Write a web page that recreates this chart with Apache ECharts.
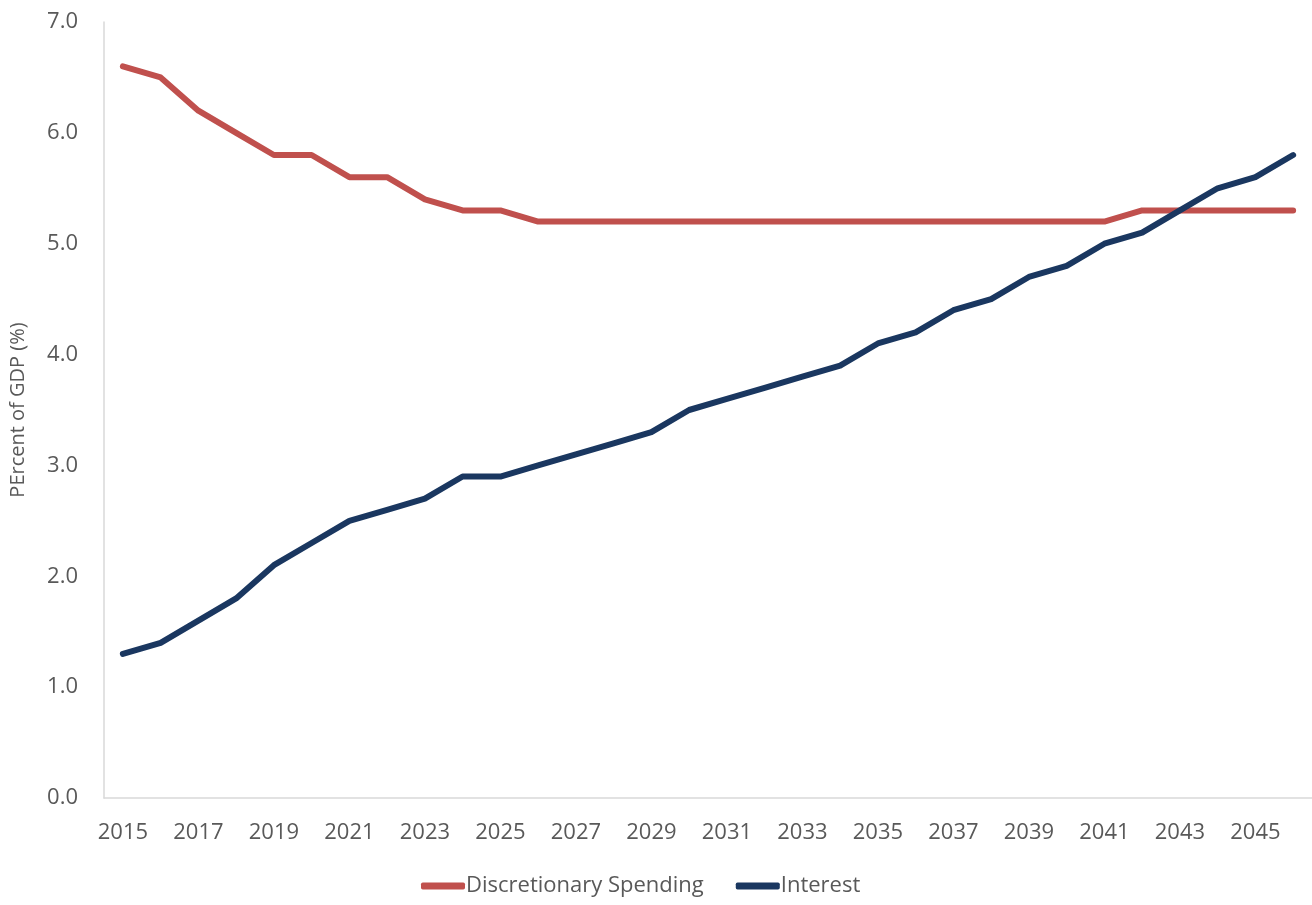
<!DOCTYPE html>
<html><head><meta charset="utf-8">
<script src="https://cdn.jsdelivr.net/npm/echarts@6/dist/echarts.min.js"></script>
<style>html,body{margin:0;padding:0;background:#fff}#c{width:1312px;height:905px}</style>
</head><body><div id="c"></div>
<script>
const years = ["2015","2016","2017","2018","2019","2020","2021","2022","2023","2024","2025","2026","2027","2028","2029","2030","2031","2032","2033","2034","2035","2036","2037","2038","2039","2040","2041","2042","2043","2044","2045","2046"];
const discretionary = [6.6,6.5,6.2,6.0,5.8,5.8,5.6,5.6,5.4,5.3,5.3,5.2,5.2,5.2,5.2,5.2,5.2,5.2,5.2,5.2,5.2,5.2,5.2,5.2,5.2,5.2,5.2,5.3,5.3,5.3,5.3,5.3];
const interest = [1.3,1.4,1.6,1.8,2.1,2.3,2.5,2.6,2.7,2.9,2.9,3.0,3.1,3.2,3.3,3.5,3.6,3.7,3.8,3.9,4.1,4.2,4.4,4.5,4.7,4.8,5.0,5.1,5.3,5.5,5.6,5.8];
const yAxisName = "PErcent of GDP (%)";
const seriesNames = ["Discretionary Spending","Interest"];

const chart = echarts.init(document.getElementById('c'), null, {renderer:'canvas'});
const font = "'Open Sans', 'Noto Sans', sans-serif";
chart.setOption({
  animation:false,
  textStyle:{fontFamily:font},
  grid:{left:102,right:0,top:22,bottom:107,containLabel:false},
  legend:{
    bottom:3,left:416,itemWidth:44,itemHeight:7,itemGap:32,
    icon:'roundRect',
    textStyle:{fontSize:22,color:'#595959',fontFamily:font,padding:[0,0,0,-4]},
    data:seriesNames
  },
  xAxis:{
    type:'category',data:years,boundaryGap:true,
    axisLine:{lineStyle:{color:'#d9d9d9',width:1.5}},
    axisTick:{show:false},
    axisLabel:{interval:1,color:'#595959',fontSize:22,margin:24}
  },
  yAxis:{
    type:'value',min:0,max:7,interval:1,
    name:yAxisName,nameLocation:'middle',nameGap:76,nameRotate:90,
    nameTextStyle:{fontSize:20,color:'#595959'},
    axisLine:{show:true,lineStyle:{color:'#d9d9d9',width:1.5}},
    axisTick:{show:false},
    splitLine:{show:false},
    axisLabel:{color:'#595959',fontSize:22,margin:26,formatter:v=>v.toFixed(1)}
  },
  series:[
    {name:seriesNames[0],type:'line',data:discretionary,symbol:'none',
     lineStyle:{color:'#C0504D',width:6,cap:'round',join:'round'},itemStyle:{color:'#C0504D'}},
    {name:seriesNames[1],type:'line',data:interest,symbol:'none',
     lineStyle:{color:'#1A3760',width:6,cap:'round',join:'round'},itemStyle:{color:'#1A3760'}}
  ]
});
</script></body></html>
